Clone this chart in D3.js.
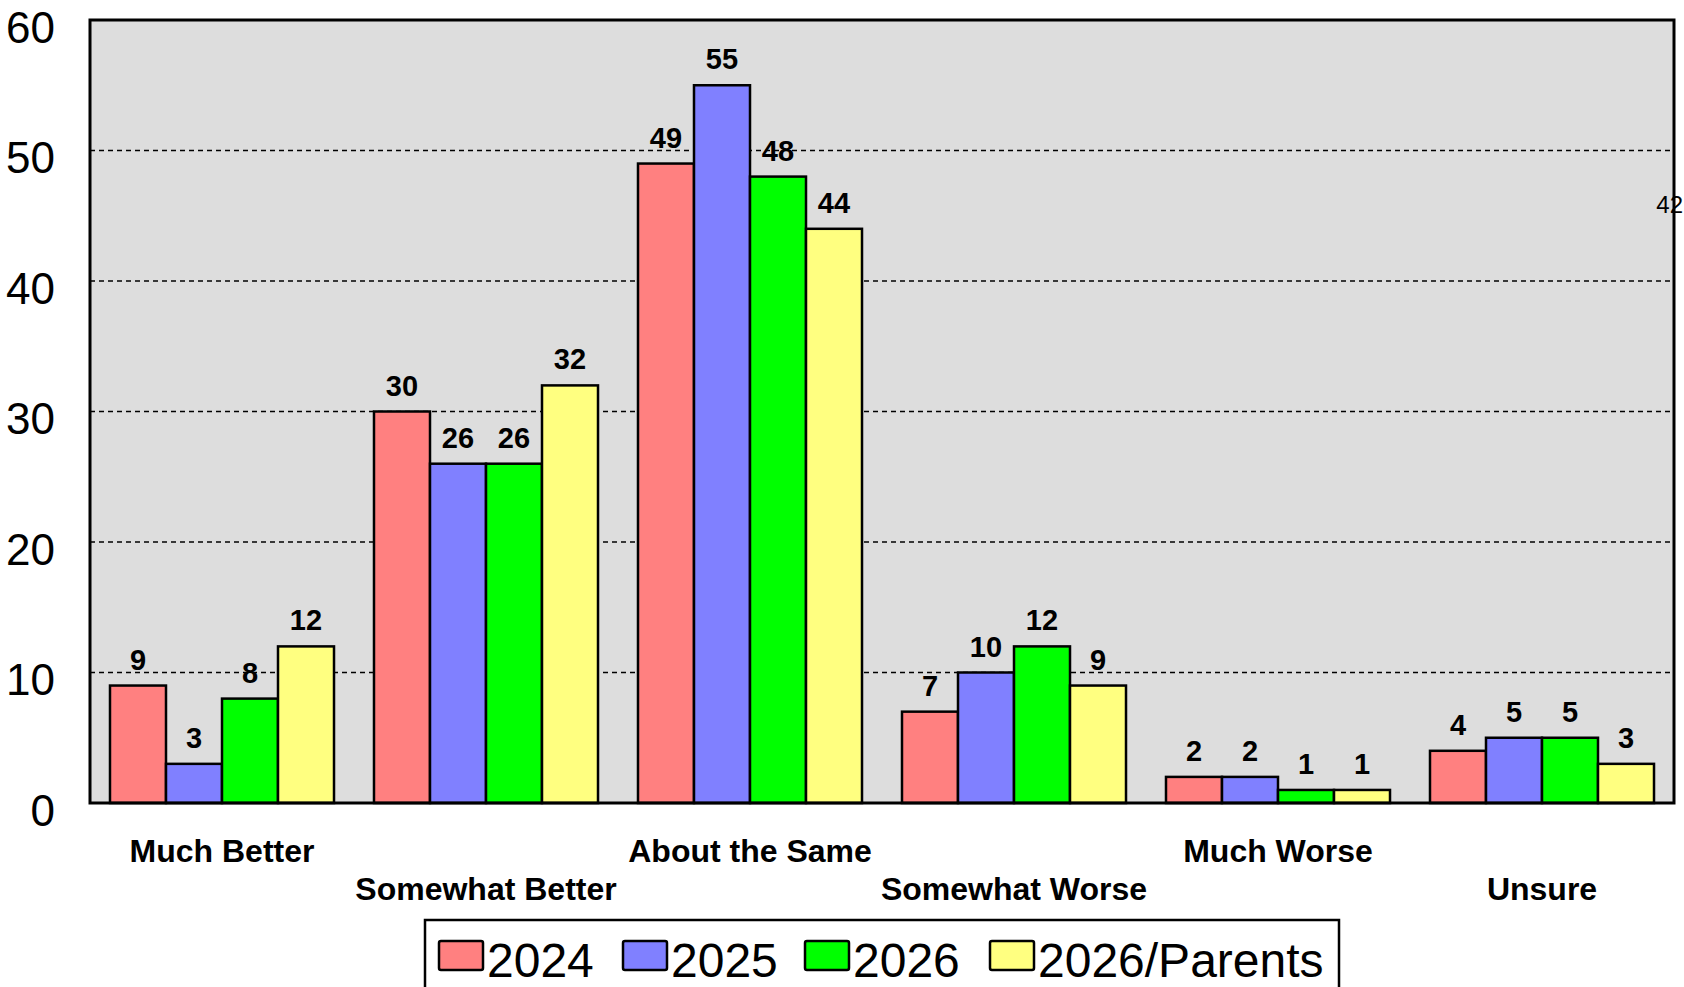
<!DOCTYPE html>
<html>
<head>
<meta charset="utf-8">
<script src="https://cdn.jsdelivr.net/npm/d3@7"></script>
<style>
  html, body { margin: 0; padding: 0; background: #ffffff; }
  svg { display: block; font-family: Arial, "Liberation Sans", sans-serif; }
</style>
</head>
<body>
<svg id="chart" width="1684" height="987"></svg>
<script>
const categories = ["Much Better", "Somewhat Better", "About the Same", "Somewhat Worse", "Much Worse", "Unsure"];
const seriesNames = ["2024", "2025", "2026", "2026/Parents"];
const values2024 = [9, 30, 49, 7, 2, 4];
const values2025 = [3, 26, 55, 10, 2, 5];
const values2026 = [8, 26, 48, 12, 1, 5];
const valuesParents = [12, 32, 44, 9, 1, 3];
const yTicks = [0, 10, 20, 30, 40, 50, 60];
const gridTicks = [10, 20, 30, 40, 50];
const strayLabel = "42";

(function () {
const seriesValues = [values2024, values2025, values2026, valuesParents];
const colors = ["#FF8080", "#8080FF", "#00FF00", "#FFFF80"];

const svg = d3.select("#chart");
const pLeft = 90, pRight = 1674, pTop = 20, pBottom = 803;

const x0 = d3.scaleBand().domain(categories).range([pLeft, pRight]).paddingInner(0).paddingOuter(0);
const x1 = d3.scaleBand().domain(seriesNames).range([0, x0.bandwidth()]).paddingInner(0).paddingOuter(0.357);
const y = d3.scaleLinear().domain([0, 60]).range([pBottom, pTop]);
const color = d3.scaleOrdinal().domain(seriesNames).range(colors);

// plot background
svg.append("rect")
  .attr("x", pLeft).attr("y", pTop)
  .attr("width", pRight - pLeft).attr("height", pBottom - pTop)
  .attr("fill", "#DDDDDD");

// gridlines
svg.append("g").selectAll("line").data(gridTicks).join("line")
  .attr("x1", pLeft).attr("x2", pRight)
  .attr("y1", d => y(d)).attr("y2", d => y(d))
  .attr("stroke", "#000").attr("stroke-width", 1.3)
  .attr("stroke-dasharray", "5,4");

// bars
const rows = categories.map((c, i) => ({cat: c, vals: seriesNames.map((s, j) => ({series: s, value: seriesValues[j][i]}))}));
const groups = svg.append("g").selectAll("g").data(rows).join("g")
  .attr("transform", d => `translate(${x0(d.cat)},0)`);

groups.selectAll("rect").data(d => d.vals).join("rect")
  .attr("x", d => x1(d.series))
  .attr("y", d => y(d.value))
  .attr("width", x1.bandwidth())
  .attr("height", d => y(0) - y(d.value))
  .attr("fill", d => color(d.series))
  .attr("stroke", "#000").attr("stroke-width", 2.5);

groups.selectAll("text").data(d => d.vals).join("text")
  .attr("x", d => x1(d.series) + x1.bandwidth() / 2)
  .attr("y", d => y(d.value) - 16)
  .attr("text-anchor", "middle")
  .attr("font-size", 29).attr("font-weight", "bold")
  .attr("fill", "#000")
  .text(d => d.value);

// plot border
svg.append("rect")
  .attr("x", pLeft).attr("y", pTop)
  .attr("width", pRight - pLeft).attr("height", pBottom - pTop)
  .attr("fill", "none").attr("stroke", "#000").attr("stroke-width", 3);

// y axis labels
const yAxis = d3.axisLeft(y).tickValues(yTicks).tickSize(0).tickPadding(35);
const yg = svg.append("g").attr("transform", `translate(${pLeft},0)`).call(yAxis);
yg.select(".domain").remove();
yg.selectAll("text")
  .attr("font-size", 44).attr("font-family", "Arial, 'Liberation Sans', sans-serif")
  .attr("fill", "#000").attr("dy", "0.5em");

// x category labels (staggered)
const xAxis = d3.axisBottom(x0).tickSize(0).tickPadding(0);
const xg = svg.append("g").attr("transform", `translate(0,${pBottom})`).call(xAxis);
xg.select(".domain").remove();
xg.selectAll("text")
  .attr("font-size", 32).attr("font-weight", "bold")
  .attr("font-family", "Arial, 'Liberation Sans', sans-serif")
  .attr("fill", "#000")
  .attr("y", (d, i) => i % 2 === 0 ? 59 : 97)
  .attr("dy", 0);

// stray label near right edge
svg.append("text")
  .attr("x", 1683).attr("y", 213)
  .attr("text-anchor", "end")
  .attr("font-size", 24).attr("fill", "#000")
  .text(strayLabel);

// legend
const legend = svg.append("g");
legend.append("rect")
  .attr("x", 425).attr("y", 920)
  .attr("width", 914).attr("height", 90)
  .attr("fill", "#fff").attr("stroke", "#000").attr("stroke-width", 2.5);
const legendX = [439, 623, 805, 990];
const items = legend.selectAll("g.item").data(seriesNames).join("g").attr("class", "item")
  .attr("transform", (d, i) => `translate(${legendX[i]},941)`);
items.append("rect")
  .attr("width", 44).attr("height", 29)
  .attr("rx", 2)
  .attr("fill", d => color(d)).attr("stroke", "#000").attr("stroke-width", 2.5);
items.append("text")
  .attr("x", 48).attr("y", 36)
  .attr("font-size", 48).attr("fill", "#000")
  .text(d => d);
})();
</script>
</body>
</html>
